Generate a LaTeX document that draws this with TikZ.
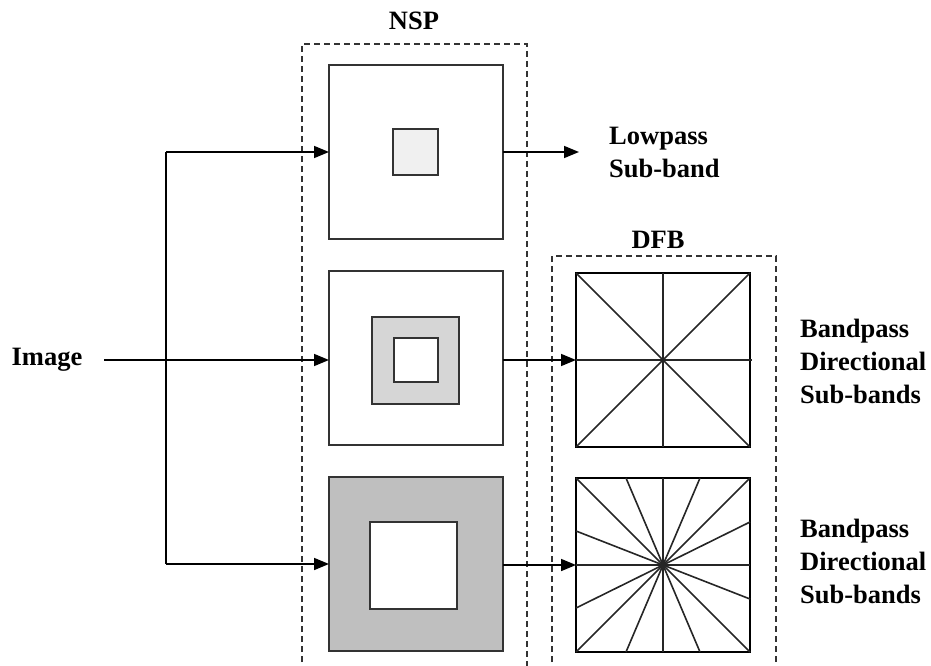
\documentclass[tikz,border=0pt]{standalone}
\usepackage{fontspec}
\setmainfont{Liberation Serif}
\usetikzlibrary{arrows.meta}
\begin{document}
\begin{tikzpicture}[x=1pt,y=-1pt,
  lbl/.style={font=\fontsize{26.5}{33}\selectfont\bfseries, align=left, inner sep=0pt},
  blk/.style={draw=black!80, line width=2pt, minimum width=#1, minimum height=#1, inner sep=0pt, outer sep=0pt},
  dfbbox/.style={draw=black, line width=2pt, minimum width=174, minimum height=174, inner sep=0pt, outer sep=0pt},
  arr/.style={line width=1.6pt, -{Triangle[length=15pt,width=12pt]}},
  conn/.style={line width=1.6pt},
  dashbox/.style={dash pattern=on 6pt off 4pt, line width=1.3pt, black!80},
  ray/.style={line width=1.6pt, black!85}]
\useasboundingbox (0,0) rectangle (931,666);
% dashed groups
\draw[dashbox] (302,672) -- (302,44) -- (527,44) -- (527,672);
\draw[dashbox] (552,672) -- (552,256) -- (776,256) -- (776,672);
\node[lbl] (nsp) at (414,21) {NSP};
\node[lbl] (dfb) at (658,240) {DFB};
% NSP blocks
\node[blk=174] (b1) at (416,152) {};
\node[blk=45, fill=black!6] (b1in) at (415.5,152) {};
\node[blk=174] (b2) at (416,358) {};
\node[blk=87, fill=black!16] (b2g) at (415.5,360.5) {};
\node[blk=44, fill=white] (b2in) at (415.5,359.5) {};
\node[blk=174, fill=black!25] (b3) at (416,564) {};
\node[blk=87, fill=white] (b3in) at (413.5,565) {};
% DFB blocks
\node[dfbbox] (d1) at (663,360) {};
\node[dfbbox] (d2) at (663,565) {};
\draw[ray] (d1.north west) -- (d1.south east);
\draw[ray] (d1.south west) -- (d1.north east);
\draw[ray] (d1.north) -- (d1.south);
\draw[ray] (d1.west) -- ([xshift=2pt]d1.east);
\draw[ray] (d2.north west) -- (d2.south east);
\draw[ray] (d2.south west) -- (d2.north east);
\draw[ray] (d2.north) -- (d2.south);
\draw[ray] (d2.west) -- (d2.east);
\draw[ray] ([xshift=-37pt]d2.north) -- ([xshift=37pt]d2.south);
\draw[ray] ([xshift=37pt]d2.north) -- ([xshift=-37pt]d2.south);
\draw[ray] ([yshift=-43pt]d2.west) -- ([yshift=43pt]d2.east);
\draw[ray] ([yshift=34pt]d2.west) -- ([yshift=-34pt]d2.east);
% input
\node[lbl] (img) at (47,360) {Image};
\coordinate (start) at (104,360);
\coordinate (split) at (166,360);
\draw[arr] (start) -- (b2.west |- start);
\draw[conn] (b1.west -| split) -- (b3.west -| split);
\draw[arr] (b1.west -| split) -- (b1.west);
\draw[arr] (b3.west -| split) -- (b3.west);
% outputs
\coordinate (lp) at (579,152);
\draw[arr] (b1.east) -- (lp);
\draw[arr] (b2.east |- d1.west) -- (d1.west);
\draw[arr] (b3.east |- d2.west) -- (d2.west);
\node[lbl, anchor=west] (lpt) at (609,152) {Lowpass\\Sub-band};
\node[lbl, anchor=west] (bp1) at (800,361) {Bandpass\\Directional\\Sub-bands};
\node[lbl, anchor=west] (bp2) at (800,561) {Bandpass\\Directional\\Sub-bands};
\end{tikzpicture}
\end{document}
